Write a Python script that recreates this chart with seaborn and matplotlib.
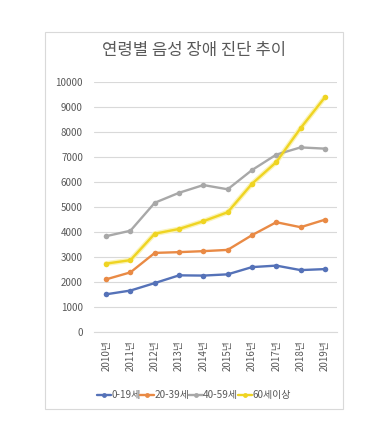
import matplotlib
matplotlib.use("Agg")
import matplotlib.pyplot as plt
import seaborn as sns
import pandas as pd
from matplotlib.patches import Rectangle
from matplotlib.lines import Line2D

years = ["2010년", "2011년", "2012년", "2013년", "2014년", "2015년", "2016년", "2017년", "2018년", "2019년"]
groups = ["0-19세", "20-39세", "40-59세", "60세이상"]
v_0_19 = [1500, 1650, 1950, 2260, 2250, 2300, 2590, 2650, 2470, 2510]
v_20_39 = [2100, 2380, 3160, 3190, 3230, 3280, 3870, 4390, 4190, 4490]
v_40_59 = [3830, 4050, 5170, 5570, 5880, 5710, 6480, 7100, 7390, 7340]
v_60 = [2730, 2870, 3930, 4120, 4430, 4790, 5930, 6800, 8160, 9400]
title = "연령별 음성 장애 진단 추이"
colors = ["#5572B8", "#E98A45", "#A8A8A8", "#EFD422"]

sns.set_theme(style="white")
plt.rcParams["font.family"] = ["Noto Sans CJK KR", "DejaVu Sans"]

rows = []
for g, vals in zip(groups, [v_0_19, v_20_39, v_40_59, v_60]):
    for i, (y, v) in enumerate(zip(years, vals)):
        rows.append({"연도": y, "idx": i, "그룹": g, "값": v})
df = pd.DataFrame(rows)

fig = plt.figure(figsize=(3.78, 4.28), dpi=100)
fig.patch.set_facecolor("white")
fig.patches.append(Rectangle((0.119, 0.044), 0.788, 0.881, transform=fig.transFigure,
                             fill=False, edgecolor="#D9D9D9", linewidth=0.8, zorder=0))
ax = fig.add_axes([0.2487, 0.225, 0.6429, 0.5827])

# soft glow for yellow series
ax.plot(range(len(years)), v_60, color="#FAF3B8", linewidth=3.6, zorder=1, solid_capstyle="round")

sns.lineplot(data=df, x="idx", y="값", hue="그룹", hue_order=groups, palette=colors,
             marker="o", markersize=4, markeredgewidth=0, linewidth=1.7, ax=ax,
             legend=False, zorder=3)

ax.set_xlim(-0.5, len(years) - 0.5)
ax.set_ylim(0, 10000)
ax.set_yticks(range(0, 10001, 1000))
ax.set_yticklabels([str(v) for v in range(0, 10001, 1000)], fontsize=7, color="#595959")
ax.set_xticks(range(len(years)))
ax.set_xticklabels(years, rotation=90, fontsize=7, color="#595959")
ax.tick_params(axis="both", length=0, pad=8)
ax.tick_params(axis="x", pad=6)
ax.set_xlabel("")
ax.set_ylabel("")
ax.grid(axis="y", color="#D9D9D9", linewidth=0.8)
ax.grid(axis="x", visible=False)
for s in ["top", "right", "left"]:
    ax.spines[s].set_visible(False)
ax.spines["bottom"].set_color("#D9D9D9")
ax.spines["bottom"].set_linewidth(0.8)
ax.set_axisbelow(True)

fig.text(0.513, 0.881, title, ha="center", va="center", fontsize=12, color="#595959")

handles = [Line2D([0], [0], color=c, marker="o", markersize=3.5, markeredgewidth=0, linewidth=1.7)
           for c in colors]
fig.legend(handles, groups, loc="center", bbox_to_anchor=(0.513, 0.077), ncol=4, frameon=False,
           fontsize=7.2, handlelength=1.4, handletextpad=0.0, columnspacing=0.0,
           labelcolor="#595959")

fig.savefig("out.png", dpi=100)
